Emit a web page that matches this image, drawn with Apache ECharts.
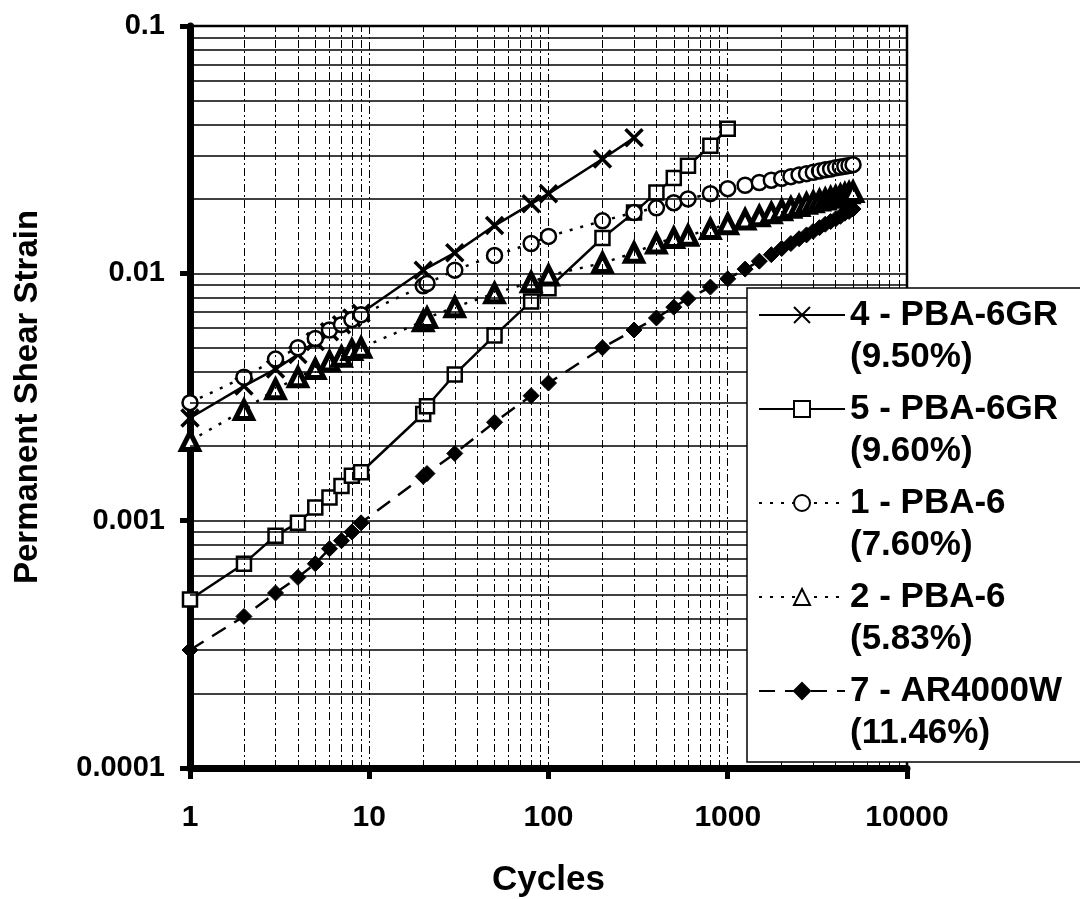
<!DOCTYPE html>
<html lang="en">
<head>
<meta charset="UTF-8">
<title>Permanent Shear Strain vs Cycles</title>
<script src="https://cdn.jsdelivr.net/npm/echarts@6/dist/echarts.min.js"></script>
<style>
  html, body { margin: 0; padding: 0; background: #fff; }
  #main { width: 1080px; height: 899px; }
</style>
</head>
<body>
<div id="main"></div>
<script>
// data (log-log)
var seriesNames = ['4 - PBA-6GR', '5 - PBA-6GR', '1 - PBA-6', '2 - PBA-6', '7 - AR4000W'];
var seriesPct = ['(9.50%)', '(9.60%)', '(7.60%)', '(5.83%)', '(11.46%)'];

var cycles4 = [1, 2, 3, 4, 5, 6, 7, 8, 9, 20, 30, 50, 80, 100, 200, 300];
var strain4 = [0.0026, 0.0035, 0.0041, 0.0047, 0.0053, 0.0058, 0.0062, 0.0066, 0.0069, 0.0103, 0.0121, 0.0156, 0.0191, 0.021, 0.029, 0.0353];

var cycles5 = [1, 2, 3, 4, 5, 6, 7, 8, 9, 20, 21, 30, 50, 80, 100, 200, 300, 400, 500, 600, 800, 1000];
var strain5 = [0.00048, 0.00067, 0.00087, 0.00098, 0.00113, 0.00124, 0.00138, 0.00152, 0.00157, 0.0027, 0.0029, 0.0039, 0.0056, 0.0077, 0.0087, 0.0139, 0.0176, 0.0212, 0.0243, 0.0272, 0.0328, 0.0384];

var cyclesLong = [1, 2, 3, 4, 5, 6, 7, 8, 9, 20, 21, 30, 50, 80, 100, 200, 300, 400, 500, 600, 800, 1000,
  1250, 1500, 1750, 2000, 2250, 2500, 2750, 3000, 3250, 3500, 3750, 4000, 4250, 4500, 4750, 5000];
var strain1 = [0.0030, 0.0038, 0.0045, 0.0050, 0.00545, 0.0059, 0.0062, 0.0065, 0.0068, 0.0089, 0.0091, 0.0103, 0.0118, 0.0132, 0.0141, 0.0163, 0.0176, 0.0184, 0.0193, 0.0200, 0.0210, 0.0220,
  0.0227, 0.0233, 0.0238, 0.0242, 0.0246, 0.0250, 0.0253, 0.0256, 0.0259, 0.0262, 0.0264, 0.0267, 0.0269, 0.0271, 0.0273, 0.0275];
var strain2 = [0.0021, 0.0028, 0.0034, 0.0038, 0.0041, 0.0044, 0.0046, 0.0049, 0.0050, 0.0064, 0.0066, 0.0073, 0.0083, 0.0092, 0.0098, 0.0110, 0.0121, 0.0132, 0.0139, 0.0142, 0.0151, 0.0158,
  0.0165, 0.0170, 0.0175, 0.0180, 0.0184, 0.0187, 0.0191, 0.0194, 0.0197, 0.0199, 0.0202, 0.0204, 0.0206, 0.0209, 0.0211, 0.0213];
var strain7 = [0.00030, 0.00041, 0.00051, 0.00059, 0.00067, 0.00077, 0.00083, 0.00090, 0.00098, 0.00151, 0.00155, 0.00187, 0.0025, 0.0032, 0.0036, 0.0050, 0.0059, 0.0066, 0.0073, 0.0079, 0.0088, 0.0095,
  0.0104, 0.0112, 0.0119, 0.0126, 0.0132, 0.0138, 0.0143, 0.0148, 0.0153, 0.0158, 0.0162, 0.0166, 0.0170, 0.0175, 0.0178, 0.0182];

// gridline positions (2..9 within each decade)
var mantissas = [2, 3, 4, 5, 6, 7, 8, 9];
var xDecades = [1, 10, 100, 1000];
var yDecades = [0.0001, 0.001, 0.01];
var X_MIN = 1, X_MAX = 10000, Y_MIN = 0.0001, Y_MAX = 0.1;

var FONT = "'Liberation Sans', Arial, sans-serif";
var black = '#000';

function pairs(xs, ys) {
  return xs.map(function (x, i) { return [x, ys[i]]; });
}

var xMinor = [];
xDecades.forEach(function (d) {
  mantissas.forEach(function (m) {
    var v = +(m * d).toPrecision(3);
    xMinor.push([{ coord: [v, Y_MIN] }, { coord: [v, Y_MAX] }]);
  });
});
var yMinor = [];
yDecades.forEach(function (d) {
  mantissas.forEach(function (m) {
    var v = +(m * d).toPrecision(3);
    yMinor.push([{ coord: [X_MIN, v] }, { coord: [X_MAX, v] }]);
  });
});

var myChart = echarts.init(document.getElementById('main'));
var option = {
  backgroundColor: '#fff',
  animation: false,
  grid: {
    left: 190, right: 173, top: 26, bottom: 131,
    outerBoundsMode: 'none',
    show: true, borderColor: black, borderWidth: 2.5
  },
  xAxis: {
    type: 'log', logBase: 10, min: X_MIN, max: X_MAX,
    name: 'Cycles', nameLocation: 'middle', nameGap: 95,
    nameTextStyle: { fontFamily: FONT, fontWeight: 'bold', fontSize: 35, color: black },
    axisLine: { lineStyle: { color: black, width: 7 } },
    axisTick: { show: true, length: 11, lineStyle: { color: black, width: 5 } },
    axisLabel: {
      margin: 35, fontFamily: FONT, fontWeight: 'bold', fontSize: 30, color: black,
      formatter: function (v) { return String(Math.round(v)); }
    },
    splitLine: { show: true, lineStyle: { color: black, width: 1, type: [8, 3, 2, 3] } }
  },
  yAxis: {
    type: 'log', logBase: 10, min: Y_MIN, max: Y_MAX,
    name: 'Permanent Shear Strain', nameLocation: 'middle', nameGap: 146,
    nameTextStyle: { fontFamily: FONT, fontWeight: 'bold', fontSize: 33, color: black },
    axisLine: { lineStyle: { color: black, width: 7 } },
    axisTick: { show: true, length: 10, lineStyle: { color: black, width: 5 } },
    axisLabel: {
      margin: 25, fontFamily: FONT, fontWeight: 'bold', fontSize: 29, color: black,
      formatter: function (v) { return Number(v.toPrecision(1)).toString(); }
    },
    splitLine: { show: true, lineStyle: { color: black, width: 1.5 } }
  },
  legend: {
    orient: 'vertical', left: 758, top: 252, padding: 0, z: 20,
    itemWidth: 86, itemHeight: 20, itemGap: -32,
    data: [
      { name: seriesNames[0] },
      { name: seriesNames[1], itemStyle: { borderWidth: 2 } },
      { name: seriesNames[2], itemStyle: { borderWidth: 2 } },
      { name: seriesNames[3], itemStyle: { borderWidth: 2 } },
      { name: seriesNames[4] }
    ],
    formatter: function (name) { return '\n' + name + '\n' + seriesPct[seriesNames.indexOf(name)]; },
    textStyle: {
      fontFamily: FONT, fontWeight: 'bold', fontSize: 35, color: black, lineHeight: 42
    }
  },
  graphic: [{
    type: 'rect', z: 10, silent: true,
    shape: { x: 747, y: 288, width: 400, height: 474 },
    style: { fill: '#fff', stroke: black, lineWidth: 1.5 }
  }],
  series: [
    {
      name: 'grid-minor-x', type: 'line', data: [], silent: true, z: 1,
      markLine: {
        silent: true, symbol: 'none', label: { show: false },
        lineStyle: { color: black, width: 1, type: [8, 3, 2, 3] },
        data: xMinor
      }
    },
    {
      name: 'grid-minor-y', type: 'line', data: [], silent: true, z: 1,
      markLine: {
        silent: true, symbol: 'none', label: { show: false },
        lineStyle: { color: black, width: 1.5, type: 'solid' },
        data: yMinor
      }
    },
    {
      name: seriesNames[0], type: 'line', data: pairs(cycles4, strain4),
      symbol: 'path://M0,0L10,10M10,0L0,10', symbolSize: 17,
      itemStyle: { color: black, borderColor: black, borderWidth: 3.5 },
      lineStyle: { color: black, width: 2.5 }
    },
    {
      name: seriesNames[1], type: 'line', data: pairs(cycles5, strain5),
      symbol: 'rect', symbolSize: 14,
      itemStyle: { color: '#fff', borderColor: black, borderWidth: 2.5 },
      lineStyle: { color: black, width: 2.5 }
    },
    {
      name: seriesNames[2], type: 'line', data: pairs(cyclesLong, strain1),
      symbol: 'circle', symbolSize: 15,
      itemStyle: { color: '#fff', borderColor: black, borderWidth: 2.5 },
      lineStyle: { color: black, width: 2.5, type: [3, 8] }
    },
    {
      name: seriesNames[3], type: 'line', data: pairs(cyclesLong, strain2),
      symbol: 'triangle', symbolSize: 17,
      itemStyle: { color: '#fff', borderColor: black, borderWidth: 5 },
      lineStyle: { color: black, width: 2.5, type: [3, 8] }
    },
    {
      name: seriesNames[4], type: 'line', data: pairs(cyclesLong, strain7),
      symbol: 'diamond', symbolSize: 16,
      itemStyle: { color: black, borderColor: black, borderWidth: 1 },
      lineStyle: { color: black, width: 2.5, type: [16, 10] }
    }
  ]
};
myChart.setOption(option);
</script>
</body>
</html>
